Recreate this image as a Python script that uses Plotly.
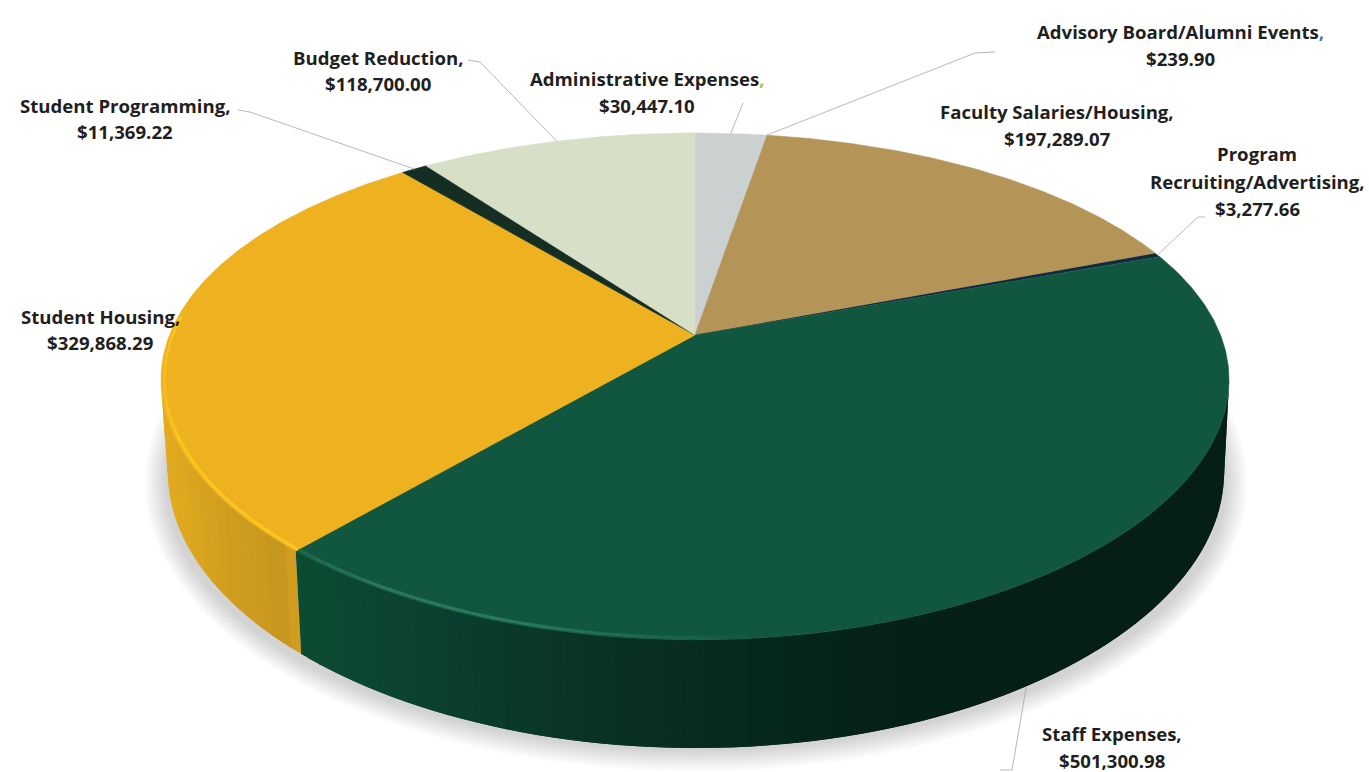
import numpy as np
import plotly.graph_objects as go

# ---------- data ----------
categories = ["Administrative Expenses", "Advisory Board/Alumni Events", "Faculty Salaries/Housing",
              "Program Recruiting/Advertising", "Staff Expenses", "Student Housing",
              "Student Programming", "Budget Reduction"]
values = [30447.10, 239.90, 197289.07, 3277.66, 501300.98, 329868.29, 11369.22, 118700.00]
value_labels = ["$30,447.10", "$239.90", "$197,289.07", "$3,277.66", "$501,300.98",
                "$329,868.29", "$11,369.22", "$118,700.00"]
slice_colors = ["#CBD1D1", "#2F5597", "#B59457", "#0E2B40", "#115740", "#EEB220", "#152E24", "#D7DFC7"]

# ---------- projection of the disc (perspective pie) ----------
K = 0.203
KX = 0.178
TOP = dict(cx=695, cy=335, a=243, b=525.5)
BOT = dict(cx=696, cy=425.6, a=257, b=519.6)


def proj(theta_deg, d, r=1.0):
    t = np.radians(theta_deg)
    u, v = r * np.sin(t), -r * np.cos(t)
    return d["cx"] + d["b"] * u / (1 - KX * v), d["cy"] + d["a"] * v / (1 - K * v)


def lerp_color(x, stops):
    xs = [s[0] for s in stops]
    out = []
    for i in range(3):
        out.append(np.interp(x, xs, [int(s[1][1 + 2 * i:3 + 2 * i], 16) for s in stops]))
    return "rgb(%d,%d,%d)" % tuple(out)


def poly(x, y, color, line=None, width=0.8):
    return go.Scatter(x=list(x), y=list(y), mode="lines", fill="toself", fillcolor=color,
                      line=dict(color=line or color, width=width if line else 0),
                      hoverinfo="skip", showlegend=False)


total = sum(values)
edges = np.concatenate([[0], np.cumsum(values)]) / total * 360
mids = (edges[:-1] + edges[1:]) / 2
fig = go.Figure()

# soft shadow under the pie
for i in range(22, 0, -1):
    t = np.linspace(0, 2 * np.pi, 181)
    fig.add_trace(poly(696 + (530 + i) * np.cos(t), 483 + (267 + i) * np.sin(t),
                       "rgba(0,0,0,0.0085)", None))

# side wall, shaded along its length; each quad overlaps the next
green_stops = [(300, "#0D4D33"), (450, "#0B4030"), (600, "#0A3325"), (750, "#072A1D"),
               (860, "#062219"), (1000, "#051F16"), (1230, "#051F16")]
gold_stops = [(160, "#E6AE20"), (230, "#D09D1E"), (280, "#C7971F"), (303, "#DAA51F")]
housing_start = edges[5]
th_green = np.arange(101.7, housing_start, 1.5)
th_gold = np.arange(housing_start, 258.3, 1.5)
for group, stops in ((th_gold, gold_stops), (th_green[::-1], green_stops)):
    for a0 in group:
        if stops is gold_stops:
            a2 = min(a0 + 3.0, 258.3)
        else:
            a0 = min(a0 + 1.5, housing_start)
            a2 = max(a0 - 3.0, 101.7)
        xt0, yt0 = proj(a0, TOP)
        xt1, yt1 = proj(a2, TOP)
        xb0, yb0 = proj(a0, BOT)
        xb1, yb1 = proj(a2, BOT)
        col = lerp_color((xb0 + xb1) / 2, stops)
        fig.add_trace(poly([xt0, xt1, xb1, xb0, xt0], [yt0, yt1, yb1, yb0, yt0], col))

# top face, one wedge per value
for i, col in enumerate(slice_colors):
    a = np.linspace(edges[i], edges[i + 1], max(3, int((edges[i + 1] - edges[i]) * 2)))
    xs, ys = proj(a, TOP)
    big = edges[i + 1] - edges[i] > 2
    fig.add_trace(poly(np.r_[TOP["cx"], xs, TOP["cx"]], np.r_[TOP["cy"], ys, TOP["cy"]], col,
                       col if big else None, 0.6))

# bevel highlight along the front rim
rim_stops = [(160, "#F4BA20"), (178, "#FDC61F"), (297, "#FDC61F")]
green_rim = [(300, "#1C6A4E"), (380, "#2C7A5C"), (520, "#2A7A5C"), (640, "#1E6B50"), (760, "#115740")]
rim_edges = np.arange(150, 276, 1.5)
rim_edges = np.unique(np.concatenate([rim_edges, [housing_start]]))
for a0, a1 in zip(rim_edges[:-1], rim_edges[1:]):
    xs, ys = proj(np.array([a0, a1]), TOP, 0.994)
    if a1 <= housing_start and xs.mean() > 760:
        continue
    xm = xs.mean()
    c = lerp_color(xm, green_rim) if a1 <= housing_start else lerp_color(xm, rim_stops)
    fig.add_trace(go.Scatter(x=xs, y=ys, mode="lines", line=dict(color=c, width=3),
                             hoverinfo="skip", showlegend=False))

# leader lines: start on each slice's rim, run to an elbow near its label
elbows = {
    0: [(743, 103)],
    1: [(975, 53), (995, 52)],
    3: [(1198, 217), (1205, 217)],
    4: [(1012, 770), (1000, 770)],
    6: [(250, 112), (238, 110)],
    7: [(480, 62), (468, 60)],
}
anchor_shift = {4: 1.8}
for i, pts in elbows.items():
    x0, y0 = proj(mids[i] + anchor_shift.get(i, 0), BOT if i == 4 else TOP)
    fig.add_trace(go.Scatter(x=[x0] + [p[0] for p in pts], y=[y0] + [p[1] for p in pts], mode="lines",
                             line=dict(color="#A6A6A6", width=0.8), hoverinfo="skip", showlegend=False))

# labels: lines of text per category
label_lines = {
    0: ["Administrative Expenses<span style='color:#A9C23F'>,</span>", value_labels[0]],
    1: ["Advisory Board/Alumni Events<span style='color:#4472C4'>,</span>", value_labels[1]],
    2: ["Faculty Salaries/Housing,", value_labels[2]],
    3: ["Program", "Recruiting/Advertising,", value_labels[3]],
    4: ["Staff Expenses,", value_labels[4]],
    5: ["Student Housing,", value_labels[5]],
    6: ["Student Programming,", value_labels[6]],
    7: ["Budget Reduction,", value_labels[7]],
}
label_pos = {
    0: (647, [78, 105]), 1: (1180, [31, 58]), 2: (1057, [111, 138]), 3: (1257, [153, 181, 208]),
    4: (1112, [733, 760]), 5: (100, [316, 342]), 6: (125, [105, 131]), 7: (378, [57, 83]),
}
anns = []
for i, lines in label_lines.items():
    cx, ys = label_pos[i]
    for txt, y in zip(lines, ys):
        anns.append(dict(x=cx, y=y, text=txt, showarrow=False, xanchor="center", yanchor="middle",
                         font=dict(family="'Open Sans', sans-serif", size=18.6, color="#1F1F1F",
                                   weight="bold")))

fig.update_layout(
    width=1369, height=772, margin=dict(l=0, r=0, t=0, b=0),
    paper_bgcolor="white", plot_bgcolor="white", showlegend=False, annotations=anns,
    xaxis=dict(range=[0, 1369], visible=False, fixedrange=True),
    yaxis=dict(range=[772, 0], visible=False, fixedrange=True),
)
fig.write_html("out.html", config={"displayModeBar": False},
               post_script="document.body.style.margin='0';")
